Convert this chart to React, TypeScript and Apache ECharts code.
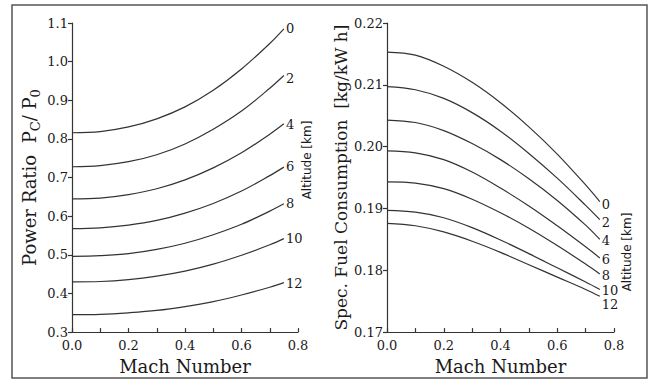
import React, { useEffect, useRef } from 'react';
import * as echarts from 'echarts';

// Mach numbers at which the curves were read
const mach = [0, 0.1, 0.2, 0.3, 0.4, 0.5, 0.6, 0.7, 0.75];
const altitudes = ['0', '2', '4', '6', '8', '10', '12'];

// Power ratio Pc/P0 per altitude (km)
const power0 = [0.816, 0.819, 0.831, 0.852, 0.883, 0.926, 0.981, 1.047, 1.085];
const power2 = [0.728, 0.731, 0.741, 0.759, 0.787, 0.825, 0.872, 0.931, 0.964];
const power4 = [0.645, 0.647, 0.656, 0.671, 0.694, 0.725, 0.764, 0.812, 0.839];
const power6 = [0.568, 0.570, 0.577, 0.589, 0.608, 0.633, 0.665, 0.705, 0.727];
const power8 = [0.496, 0.498, 0.503, 0.514, 0.530, 0.552, 0.579, 0.613, 0.632];
const power10 = [0.430, 0.431, 0.436, 0.445, 0.458, 0.476, 0.499, 0.526, 0.542];
const power12 = [0.345, 0.346, 0.350, 0.356, 0.366, 0.379, 0.396, 0.416, 0.428];

// Specific fuel consumption [kg/kW h] per altitude (km)
const sfc0 = [0.2153, 0.2148, 0.2130, 0.2104, 0.2071, 0.2032, 0.1988, 0.1938, 0.1911];
const sfc2 = [0.2097, 0.2092, 0.2078, 0.2055, 0.2025, 0.1989, 0.1949, 0.1905, 0.1882];
const sfc4 = [0.2043, 0.2039, 0.2026, 0.2005, 0.1979, 0.1948, 0.1913, 0.1873, 0.1850];
const sfc6 = [0.1993, 0.1990, 0.1979, 0.1959, 0.1933, 0.1904, 0.1872, 0.1838, 0.1820];
const sfc8 = [0.1943, 0.1941, 0.1932, 0.1915, 0.1893, 0.1868, 0.1840, 0.1810, 0.1794];
const sfc10 = [0.1897, 0.1894, 0.1885, 0.1869, 0.1849, 0.1827, 0.1804, 0.1781, 0.1769];
const sfc12 = [0.1876, 0.1872, 0.1862, 0.1847, 0.1829, 0.1809, 0.1789, 0.1769, 0.1758];

const powerSeries = [power0, power2, power4, power6, power8, power10, power12];
const sfcSeries = [sfc0, sfc2, sfc4, sfc6, sfc8, sfc10, sfc12];

// label offsets (layout only)
const powerLabelOffsets = [[2, 0], [2, 3], [2, 1], [2, -1], [2, 0], [2, 0], [2, 1]];
const sfcLabelOffsets = [[2, 3], [2, 3], [2, 1], [2, 2], [2, 2], [2, 1], [2, 8]];

const SERIF = 'DejaVu Serif';
const INK = '#1a1a1a';
const LINE = '#333';

export default function App() {
  const ref = useRef<HTMLDivElement>(null);
  useEffect(() => {
    const chart = echarts.init(ref.current!, null, { renderer: 'svg' });

    const xAxisBase = (gridIndex: number) => ({
      type: 'value',
      gridIndex,
      min: 0,
      max: 0.8,
      interval: 0.2,
      name: 'Mach Number',
      nameLocation: 'middle',
      nameGap: 23,
      nameTextStyle: { fontFamily: SERIF, fontSize: 18, color: INK },
      axisLine: { show: true, lineStyle: { color: LINE, width: 1.2 } },
      axisTick: { show: true, inside: true, length: 4, lineStyle: { color: LINE, width: 1.2 } },
      minorTick: { show: true, splitNumber: 2, length: 4, lineStyle: { color: LINE, width: 1.2 } },
      splitLine: { show: false },
      axisLabel: {
        fontFamily: SERIF,
        fontSize: 13,
        lineHeight: 13,
        color: INK,
        margin: 7,
        formatter: (v: number) => v.toFixed(1),
      },
    });

    const series: any[] = [];
    powerSeries.forEach((vals, i) => {
      series.push({
        type: 'line',
        name: altitudes[i],
        xAxisIndex: 0,
        yAxisIndex: 0,
        data: mach.map((m, j) => [m, vals[j]]),
        smooth: 0.35,
        showSymbol: false,
        lineStyle: { color: LINE, width: 1.2 },
        endLabel: {
          show: true,
          formatter: altitudes[i],
          fontFamily: SERIF,
          fontSize: 13,
          color: INK,
          distance: 0,
          offset: powerLabelOffsets[i],
        },
      });
    });
    sfcSeries.forEach((vals, i) => {
      series.push({
        type: 'line',
        name: altitudes[i],
        xAxisIndex: 1,
        yAxisIndex: 1,
        data: mach.map((m, j) => [m, vals[j]]),
        smooth: 0.35,
        showSymbol: false,
        lineStyle: { color: LINE, width: 1.2 },
        endLabel: {
          show: true,
          formatter: altitudes[i],
          fontFamily: SERIF,
          fontSize: 13,
          color: INK,
          distance: 0,
          offset: sfcLabelOffsets[i],
        },
      });
    });

    const yLabel = (digits: number) => ({
      fontFamily: SERIF,
      fontSize: 13,
      lineHeight: 13,
      color: INK,
      margin: 4,
      formatter: (v: number) => v.toFixed(digits),
    });

    const option: any = {
      animation: false,
      backgroundColor: '#fff',
      grid: [
        { left: 72, top: 23, width: 226, height: 311 },
        { left: 387, top: 23, width: 227, height: 310 },
      ],
      xAxis: [xAxisBase(0), xAxisBase(1)],
      yAxis: [
        {
          type: 'value',
          gridIndex: 0,
          min: 0.3,
          max: 1.1,
          interval: 0.1,
          name: '{a|Power Ratio  P}{s|C}{a|/ P}{s|0}',
          nameLocation: 'middle',
          nameGap: 30,
          nameTextStyle: {
            color: INK,
            rich: {
              a: { fontFamily: SERIF, fontSize: 18, color: INK, lineHeight: 26 },
              s: { fontFamily: SERIF, fontSize: 13, color: INK, lineHeight: 26, verticalAlign: 'bottom' },
            },
          },
          axisLine: { show: true, lineStyle: { color: LINE, width: 1.2 } },
          axisTick: { show: true, length: 4, lineStyle: { color: LINE, width: 1.2 } },
          splitLine: { show: false },
          axisLabel: yLabel(1),
        },
        {
          type: 'value',
          gridIndex: 1,
          min: 0.17,
          max: 0.22,
          interval: 0.01,
          name: 'Spec. Fuel Consumption  [kg/kW h]',
          nameLocation: 'middle',
          nameGap: 38,
          nameTextStyle: { fontFamily: SERIF, fontSize: 17, color: INK },
          axisLine: { show: true, lineStyle: { color: LINE, width: 1.2 } },
          axisTick: { show: true, length: 4, lineStyle: { color: LINE, width: 1.2 } },
          splitLine: { show: false },
          axisLabel: yLabel(2),
        },
      ],
      graphic: [
        {
          type: 'rect',
          shape: { x: 12, y: 5, width: 635, height: 373 },
          style: { fill: 'none', stroke: '#555', lineWidth: 1.5 },
          silent: true,
        },
        {
          type: 'text',
          x: 307,
          y: 160,
          rotation: Math.PI / 2,
          style: {
            text: 'Altitude [km]',
            fontFamily: 'DejaVu Sans',
            fontSize: 12,
            fill: INK,
            align: 'center',
            verticalAlign: 'middle',
          },
        },
        {
          type: 'text',
          x: 627,
          y: 252,
          rotation: Math.PI / 2,
          style: {
            text: 'Altitude [km]',
            fontFamily: 'DejaVu Sans',
            fontSize: 12,
            fill: INK,
            align: 'center',
            verticalAlign: 'middle',
          },
        },
      ],
      series,
    };
    chart.setOption(option);
    return () => chart.dispose();
  }, []);
  return (
    <div
      ref={ref}
      style={{ position: 'absolute', left: 0, top: 0, width: 648, height: 380, background: '#fff' }}
    />
  );
}
